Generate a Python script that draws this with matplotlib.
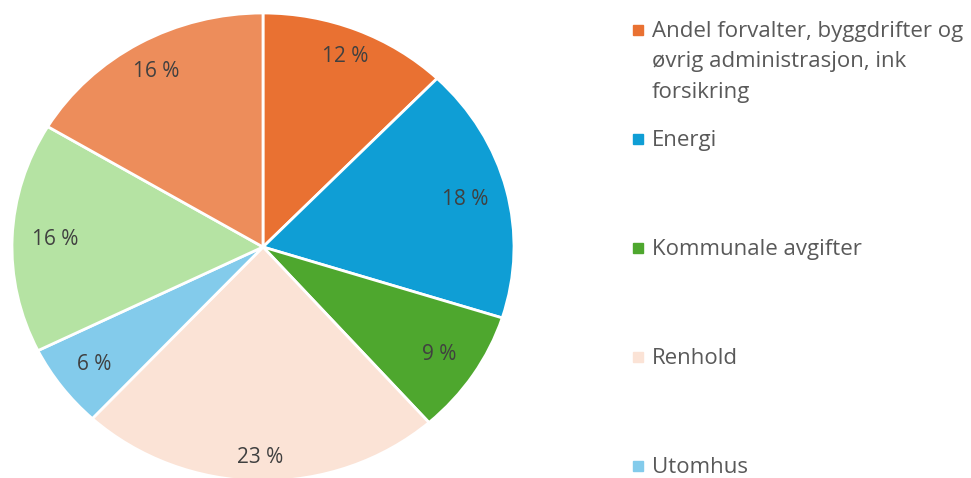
import numpy as np
import matplotlib.pyplot as plt
from matplotlib.patches import Rectangle

# Share of costs per category (percent), clockwise from 12 o'clock
values = [12.2, 17.7, 8.6, 23.4, 5.8, 15.9, 16.4]
colors = ['#E97132', '#0F9ED5', '#4EA72E', '#FBE3D6', '#83CBEB', '#B5E3A3', '#ED8D5B']
# Only the first five legend entries are visible in the chart
legend_labels = ['Andel forvalter, byggdrifter og\nøvrig administrasjon, ink\nforsikring',
                 'Energi', 'Kommunale avgifter', 'Renhold', 'Utomhus']

plt.rcParams['font.family'] = ['Open Sans', 'DejaVu Sans']

W, H = 971, 478
fig = plt.figure(figsize=(W / 100, H / 100), dpi=100)

# the original pie is slightly stretched sideways: centre (263, 247), semi-axes 251 x 234 px
cx, cy, rx, ry = 263, 247, 251, 234
ax = fig.add_axes([(cx - rx) / W, (H - cy - ry) / H, 2 * rx / W, 2 * ry / H])
wedges, texts, autotexts = ax.pie(values, colors=colors, startangle=90, counterclock=False,
                                  autopct=lambda p: f'{p:.0f} %', pctdistance=0.85,
                                  wedgeprops=dict(edgecolor='white', linewidth=2),
                                  textprops=dict(color='#404040', fontsize=15))
ax.set_xlim(-1, 1)
ax.set_ylim(-1, 1)
ax.set_aspect('auto')

# Excel's "best fit" puts the labels at slightly different distances
label_dist = [0.88, 0.83, 0.84, 0.90, 0.84, 0.83, 0.86]
for w, t, d in zip(wedges, autotexts, label_dist):
    mid = np.deg2rad((w.theta1 + w.theta2) / 2)
    t.set_position((d * np.cos(mid), d * np.sin(mid)))

# Legend drawn by hand: entries every ~109 px, marker on the first line
base0, step, line_h = 37, 109, 30.5
for i, lab in enumerate(legend_labels):
    base = base0 + i * step
    fig.patches.append(Rectangle((633 / W, 1 - (base - 2) / H), 10 / W, 10 / H,
                                 transform=fig.transFigure, color=colors[i]))
    for k, line in enumerate(lab.split('\n')):
        fig.text(652 / W, 1 - (base + k * line_h) / H, line, ha='left', va='baseline',
                 fontsize=16, color='#595959')

fig.savefig('out.png', dpi=100)
